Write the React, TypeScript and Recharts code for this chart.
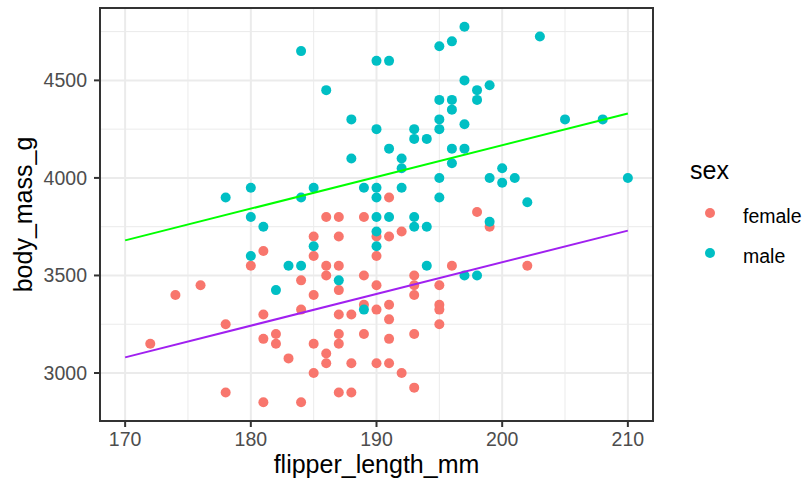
import { ScatterChart, Scatter, XAxis, YAxis, CartesianGrid, ReferenceArea, Legend } from 'recharts';

const FONT = '"Liberation Sans", Arial, Helvetica, sans-serif';

// [flipper_length_mm, body_mass_g]
const femalePoints = [
  [172, 3150], [174, 3400], [176, 3450], [178, 3250], [178, 2900], [180, 3550],
  [181, 3625], [181, 3300], [181, 3175], [181, 2850], [182, 3200], [182, 3150],
  [183, 3075], [184, 3475], [184, 3325], [184, 2850], [185, 3700], [185, 3600],
  [185, 3400], [185, 3150], [185, 3000], [186, 3800], [186, 3550], [186, 3500],
  [186, 3100], [186, 3050], [187, 3800], [187, 3700], [187, 3550], [187, 3425],
  [187, 3300], [187, 3200], [187, 3150], [187, 2900], [188, 3300], [188, 3050],
  [188, 2900], [189, 3800], [189, 3500], [189, 3350], [189, 3200], [190, 3700],
  [190, 3600], [190, 3450], [190, 3325], [190, 3050], [191, 3900], [191, 3700],
  [191, 3350], [191, 3275], [191, 3175], [191, 3050], [192, 3725], [192, 3000],
  [193, 3500], [193, 3450], [193, 3400], [193, 3200], [193, 2925], [195, 3450],
  [195, 3350], [195, 3325], [195, 3250], [196, 3550], [198, 3825], [199, 3750],
  [202, 3550]
];

const malePoints = [
  [178, 3900], [180, 3950], [180, 3800], [180, 3600], [181, 3750], [182, 3425],
  [183, 3550], [184, 4650], [184, 3900], [184, 3550], [185, 3950], [185, 3650],
  [186, 4450], [187, 3475], [188, 4300], [188, 4100], [189, 3950], [189, 3325],
  [190, 4600], [190, 4250], [190, 3950], [190, 3900], [190, 3800], [190, 3725],
  [190, 3650], [191, 4600], [191, 4150], [191, 3800], [192, 4100], [192, 4050],
  [192, 3950], [193, 4250], [193, 4200], [193, 3800], [193, 3750], [194, 4200],
  [194, 3750], [194, 3550], [195, 4675], [195, 4400], [195, 4300], [195, 4250],
  [195, 4000], [195, 3900], [196, 4700], [196, 4400], [196, 4350], [196, 4150],
  [196, 4075], [197, 4775], [197, 4500], [197, 4275], [197, 4150], [197, 3500],
  [198, 4450], [198, 4400], [198, 3500], [199, 4475], [199, 4000], [199, 3775],
  [200, 4050], [200, 3975], [201, 4000], [202, 3875], [203, 4725], [205, 4300],
  [208, 4300], [210, 4000]
];

// fitted lines (end points)
const femaleFit = [[170, 3080], [210, 3730]];
const maleFit = [[170, 3680], [210, 4330]];

const xTicks = [170, 180, 190, 200, 210];
const xMinor = [175, 185, 195, 205];
const yTicks = [3000, 3500, 4000, 4500];
const yMinor = [3250, 3750, 4250, 4750];

const toXY = (pts: number[][]) => pts.map(([x, y]) => ({ x, y }));

const Dot = (props: any) => <circle cx={props.cx} cy={props.cy} r={5} fill={props.fill} />;
const NoDot = () => <g />;

const LegendBox = (props: any) => {
  const items = (props.payload || []).filter((p: any) => p.type !== 'none');
  return (
    <div style={{ fontFamily: FONT, color: '#000' }}>
      <div style={{ fontSize: 25, lineHeight: '30px', height: 30 }}>sex</div>
      <div style={{ height: 8 }} />
      {items.map((p: any) => (
        <div key={p.value} style={{ display: 'flex', alignItems: 'center', height: 40 }}>
          <svg width={10} height={10} style={{ marginLeft: 15 }}>
            <circle cx={5} cy={5} r={5} fill={p.color} />
          </svg>
          <span style={{ marginLeft: 28, fontSize: 19.5, lineHeight: '40px', position: 'relative', top: 3 }}>{p.value}</span>
        </div>
      ))}
    </div>
  );
};

export default function App() {
  return (
    <div style={{ position: 'absolute', left: 0, top: 0, width: 804, height: 482, background: '#fff' }}>
      <ScatterChart width={804} height={482} margin={{ top: 8, right: 151, bottom: 0, left: 0 }}>
        <CartesianGrid horizontalValues={yMinor} verticalValues={xMinor} stroke="#EBEBEB" strokeWidth={1} />
        <CartesianGrid horizontalValues={yTicks} verticalValues={xTicks} stroke="#EBEBEB" strokeWidth={2} />
        <XAxis
          type="number"
          dataKey="x"
          domain={[168, 212]}
          allowDataOverflow
          ticks={xTicks}
          interval={0}
          height={61}
          tickSize={6}
          tickMargin={5}
          axisLine={false}
          tickLine={{ stroke: '#333333', strokeWidth: 2 }}
          tick={{ fill: '#4D4D4D', fontSize: 19.5, fontFamily: FONT }}
          label={{ value: 'flipper_length_mm', position: 'insideBottom', offset: 9, fill: '#000', fontSize: 25, fontFamily: FONT }}
        />
        <YAxis
          type="number"
          dataKey="y"
          domain={[2754, 4871]}
          allowDataOverflow
          ticks={yTicks}
          interval={0}
          width={100}
          tickSize={6}
          tickMargin={7}
          axisLine={false}
          tickLine={{ stroke: '#333333', strokeWidth: 2 }}
          tick={{ fill: '#4D4D4D', fontSize: 19.5, fontFamily: FONT }}
          label={{ value: 'body_mass_g', angle: -90, position: 'insideLeft', offset: 23, fill: '#000', fontSize: 25, fontFamily: FONT, style: { textAnchor: 'middle' } }}
        />
        <Scatter name="female" data={toXY(femalePoints)} fill="#F8766D" shape={Dot} isAnimationActive={false} />
        <Scatter name="male" data={toXY(malePoints)} fill="#00BFC4" shape={Dot} isAnimationActive={false} />
        <Scatter
          data={toXY(femaleFit)}
          fill="#A020F0"
          line={{ stroke: '#A020F0', strokeWidth: 2 }}
          shape={NoDot}
          legendType="none"
          isAnimationActive={false}
        />
        <Scatter
          data={toXY(maleFit)}
          fill="#00FF00"
          line={{ stroke: '#00FF00', strokeWidth: 2 }}
          shape={NoDot}
          legendType="none"
          isAnimationActive={false}
        />
        <ReferenceArea x1={168} x2={212} y1={2754} y2={4871} fill="none" stroke="#333333" strokeWidth={2} ifOverflow="visible" />
        <Legend
          layout="vertical"
          align="center"
          verticalAlign="middle"
          content={<LegendBox />}
          wrapperStyle={{ left: 690, top: 155, width: 114 }}
        />
      </ScatterChart>
    </div>
  );
}
